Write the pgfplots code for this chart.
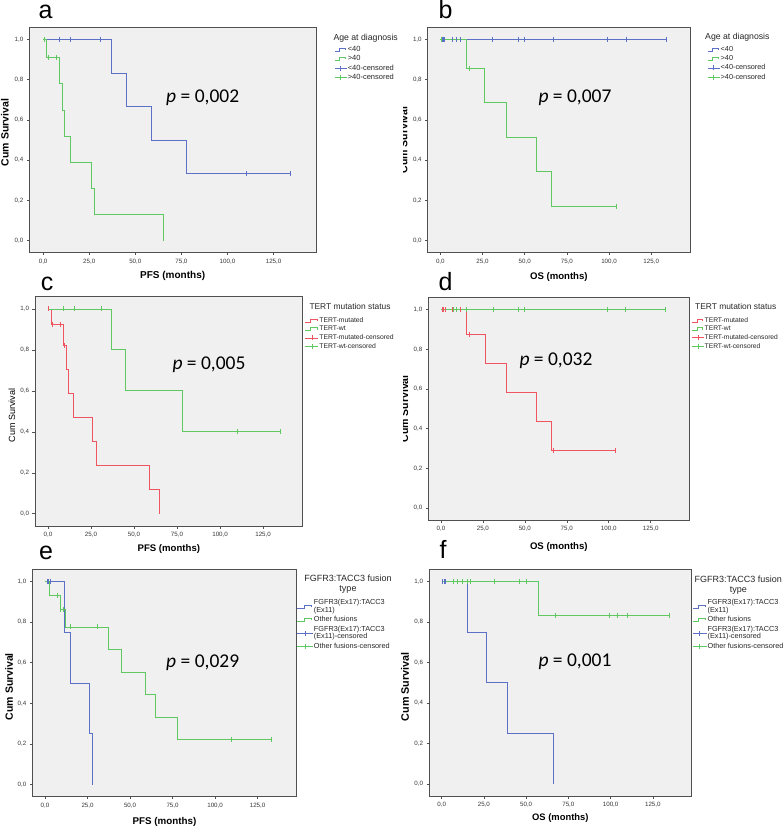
\documentclass[border=0pt]{standalone}
\usepackage{fontspec}
\setmainfont{Liberation Sans}
\newfontfamily\pfont{Carlito}
\usepackage{pgfplots}
\pgfplotsset{compat=1.18}
\definecolor{blueC}{RGB}{92,112,198}
\definecolor{greenC}{RGB}{96,200,96}
\definecolor{redC}{RGB}{240,84,96}
\definecolor{bgc}{RGB}{240,240,240}
\definecolor{axc}{RGB}{80,80,80}
\definecolor{tkc}{RGB}{55,55,55}
\pgfplotsset{
  kmaxis/.style={
    scale only axis, anchor=south west,
    xmin=-7.5, xmax=148, ymin=-0.06, ymax=1.06,
    xtick={0,25,50,75,100,125}, ytick={0,0.2,0.4,0.6,0.8,1},
    xtick pos=bottom, ytick pos=left,
    tick align=outside, major tick length=2.5pt,
    axis line style={draw=axc, line width=0.8pt},
    every tick/.style={draw=axc, line width=0.5pt},
    tick label style={font=\fontsize{6.2}{7}\selectfont, text=tkc},
    axis background/.style={fill=bgc},
    /pgf/number format/fixed, /pgf/number format/fixed zerofill,
    /pgf/number format/precision=1, /pgf/number format/use comma,
    /pgf/number format/1000 sep={}, /pgf/number format/assume math mode=true,
    legend cell align=left,
    legend style={draw=none, fill=none, at={(1,1)}, anchor=north west,
      inner sep=0pt, outer sep=0pt, row sep=1.2pt,
      nodes={inner sep=0.6pt, text=black!85}},
    every axis x label/.style={at={(axis description cs:0.5,0)}, anchor=center},
  },
  kmline/.style={const plot, line width=0.9pt, no markers},
  kmcens/.style={only marks, mark=|, mark size=2.5pt, mark options={line width=0.7pt}},
  stepleg/.style 2 args={legend image code/.code={\draw[#1,line width=0.8pt] (0pt,-1.5pt) -- ({0.42*#2},-1.5pt) -- ({0.42*#2},1.5pt) -- ({0.9*#2},1.5pt) -- ({0.9*#2},-0.5pt);}},
  censleg/.style 2 args={legend image code/.code={\draw[#1,line width=0.8pt] (0pt,0pt) -- (#2,0pt); \draw[#1,line width=0.8pt] ({#2/2},-2.5pt) -- ({#2/2},2.5pt);}},
}
\begin{document}
\begin{tikzpicture}[x=1pt,y=1pt]
\useasboundingbox (0,-828) rectangle (784,0);

% ---------------- panel b
\begin{axis}[kmaxis, at={(427.7pt,-252.7pt)}, width=262.3pt, height=225.4pt,
  xlabel={OS (months)}, ylabel={Cum Survival},
  xlabel style={font=\fontsize{9.6}{10}\selectfont\bfseries, yshift=-24.6pt},
  ylabel style={at={(axis description cs:-0.0915,0.5)}, anchor=center, rotate=0, font=\fontsize{10.5}{11}\selectfont\bfseries},
  legend style={xshift=17.3pt, yshift=-18.7pt, font=\fontsize{7.3}{8}\selectfont}]
\addplot[kmline, blueC, stepleg={blueC}{12pt}] coordinates {(0,1)(134,1)};
\addlegendentry{<40}
\addplot[kmline, greenC, stepleg={greenC}{12pt}] coordinates {(0,1)(15.3,0.857)(26,0.686)(39,0.514)(57,0.343)(66,0.171)(104.4,0.171)};
\addlegendentry{>40}
\addplot[kmcens, blueC, censleg={blueC}{12pt}] coordinates {(0.9,1)(1.7,1)(2.6,1)(7,1)(9.3,1)(12,1)(31,1)(46,1)(50,1)(67,1)(99,1)(110,1)(134,1)};
\addlegendentry{<40-censored}
\addplot[kmcens, greenC, censleg={greenC}{12pt}] coordinates {(0.3,1)(17,0.857)(104.4,0.171)};
\addlegendentry{>40-censored}
\end{axis}
\node[anchor=base west, inner sep=0pt, font=\fontsize{8.7}{9}\selectfont, text=black!85] at (705,-39.5) {Age at diagnosis};

% ---------------- panel d
\begin{axis}[kmaxis, at={(428.3pt,-520pt)}, width=261pt, height=222.3pt,
  xlabel={OS (months)}, ylabel={Cum Survival},
  xlabel style={font=\fontsize{9.6}{10}\selectfont\bfseries, yshift=-27.3pt},
  ylabel style={at={(axis description cs:-0.092,0.5)}, anchor=center, font=\fontsize{10.5}{11}\selectfont\bfseries},
  legend style={xshift=2.4pt, yshift=-19pt, font=\fontsize{6.7}{7.5}\selectfont}]
\addplot[kmline, redC, stepleg={redC}{11.6pt}] coordinates {(0,1)(15,0.875)(26.3,0.729)(38.8,0.583)(57,0.437)(66.1,0.292)(104,0.292)};
\addlegendentry{TERT-mutated}
\addplot[kmline, greenC, stepleg={greenC}{11.6pt}] coordinates {(0,1)(134,1)};
\addlegendentry{TERT-wt}
\addplot[kmcens, redC, censleg={redC}{11.6pt}] coordinates {(0.6,1)(1.4,1)(2.6,1)(7,1)(11.7,1)(17,0.875)(67,0.292)(104,0.292)};
\addlegendentry{TERT-mutated-censored}
\addplot[kmcens, greenC, censleg={greenC}{11.6pt}] coordinates {(7.2,1)(9.2,1)(15.1,1)(31.1,1)(46,1)(50,1)(99,1)(110,1)(134,1)};
\addlegendentry{TERT-wt-censored}
\end{axis}
\node[anchor=base west, inner sep=0pt, font=\fontsize{8.4}{9}\selectfont, text=black!85] at (695,-309.7) {TERT mutation status};

% cover the left part of the right column's y labels (as in the composite)
\fill[white] (386,-1) rectangle (403,-540);

% ---------------- panel a
\begin{axis}[kmaxis, at={(29.3pt,-252.7pt)}, width=286.7pt, height=225.4pt,
  xlabel={PFS (months)}, ylabel={Cum Survival},
  xlabel style={font=\fontsize{10}{11}\selectfont\bfseries, yshift=-23.3pt},
  ylabel style={at={(axis description cs:-0.0848,0.533)}, anchor=center, font=\fontsize{10.5}{11}\selectfont\bfseries},
  legend style={xshift=18.4pt, yshift=-18.4pt, font=\fontsize{7.5}{8}\selectfont}]
\addplot[kmline, blueC, stepleg={blueC}{12pt}] coordinates {(0,1)(37,0.833)(45,0.667)(59,0.5)(78,0.333)(134,0.333)};
\addlegendentry{<40}
\addplot[kmline, greenC, stepleg={greenC}{12pt}] coordinates {(0,1)(1.8,0.909)(9,0.779)(10.6,0.649)(11.6,0.519)(15,0.39)(26,0.26)(28,0.13)(65,0)};
\addlegendentry{>40}
\addplot[kmcens, blueC, censleg={blueC}{12pt}] coordinates {(9,1)(15,1)(31,1)(110,0.333)(134,0.333)};
\addlegendentry{<40-censored}
\addplot[kmcens, greenC, censleg={greenC}{12pt}] coordinates {(0.5,1)(2.6,0.909)(7,0.909)};
\addlegendentry{>40-censored}
\end{axis}
\node[anchor=base west, inner sep=0pt, font=\fontsize{8.7}{9}\selectfont, text=black!85] at (333.3,-40) {Age at diagnosis};

% ---------------- panel c
\begin{axis}[kmaxis, at={(35pt,-526pt)}, width=267.7pt, height=229.3pt,
  xlabel={PFS (months)}, ylabel={Cum Survival},
  xlabel style={font=\fontsize{9.6}{10}\selectfont\bfseries, yshift=-23.5pt},
  ylabel style={at={(axis description cs:-0.0859,0.481)}, anchor=center, font=\fontsize{9}{10}\selectfont},
  legend style={xshift=2.3pt, yshift=-20pt, font=\fontsize{6.8}{7.5}\selectfont}]
\addplot[kmline, redC, stepleg={redC}{13pt}] coordinates {(0,1)(1.8,0.923)(9,0.82)(10.7,0.703)(12,0.586)(15,0.469)(26,0.352)(28,0.234)(59,0.117)(65,0)};
\addlegendentry{TERT-mutated}
\addplot[kmline, greenC, stepleg={greenC}{13pt}] coordinates {(0,1)(37,0.8)(45,0.6)(78,0.4)(135,0.4)};
\addlegendentry{TERT-wt}
\addplot[kmcens, redC, censleg={redC}{13pt}] coordinates {(0.4,1)(2.7,0.923)(7,0.923)(9.5,0.82)};
\addlegendentry{TERT-mutated-censored}
\addplot[kmcens, greenC, censleg={greenC}{13pt}] coordinates {(9.2,1)(15.2,1)(31.2,1)(110,0.4)(135,0.4)};
\addlegendentry{TERT-wt-censored}
\end{axis}
\node[anchor=base west, inner sep=0pt, font=\fontsize{8.4}{9}\selectfont, text=black!85] at (309.3,-309.7) {TERT mutation status};

% ---------------- panel e
\begin{axis}[kmaxis, at={(32.3pt,-796.7pt)}, width=264.4pt, height=227.4pt,
  xlabel={PFS (months)}, ylabel={Cum Survival},
  xlabel style={font=\fontsize{9.8}{10}\selectfont\bfseries, yshift=-25pt},
  ylabel style={at={(axis description cs:-0.088,0.484)}, anchor=center, font=\fontsize{10.5}{11}\selectfont\bfseries},
  legend style={xshift=0.3pt, yshift=-29.7pt, font=\fontsize{7.3}{6.6}\selectfont, cells={align=left}}]
\addplot[kmline, blueC, stepleg={blueC}{15.5pt}] coordinates {(0,1)(11.2,0.75)(15,0.5)(26,0.25)(28,0)};
\addlegendentry{FGFR3(Ex17):TACC3\\(Ex11)}
\addplot[kmline, greenC, stepleg={greenC}{15.5pt}] coordinates {(0,1)(2.5,0.933)(8.8,0.862)(12,0.776)(37,0.665)(45,0.554)(59,0.443)(65,0.332)(78,0.222)(133,0.222)};
\addlegendentry{Other fusions}
\addplot[kmcens, blueC, censleg={blueC}{15.5pt}] coordinates {(1.1,1)(2,1)(3,1)};
\addlegendentry{FGFR3(Ex17):TACC3\\(Ex11)-censored}
\addplot[kmcens, greenC, censleg={greenC}{15.5pt}] coordinates {(7.3,0.933)(8.9,0.862)(10.8,0.862)(15,0.776)(31,0.776)(109.4,0.222)(133,0.222)};
\addlegendentry{Other fusions-censored}
\end{axis}
\node[anchor=north, inner sep=0pt, align=center, font=\fontsize{9}{10}\selectfont, text=black!85] at (348,-574.5) {FGFR3:TACC3 fusion\\type};

% ---------------- panel f
\begin{axis}[kmaxis, at={(429pt,-796pt)}, width=262.7pt, height=226.7pt,
  xlabel={OS (months)}, ylabel={Cum Survival},
  xlabel style={font=\fontsize{9.4}{10}\selectfont\bfseries, yshift=-22pt},
  ylabel style={at={(axis description cs:-0.0914,0.482)}, anchor=center, font=\fontsize{10.8}{11}\selectfont\bfseries},
  legend style={xshift=1pt, yshift=-29.7pt, font=\fontsize{7.3}{6.6}\selectfont, cells={align=left}}]
\addplot[kmline, blueC, stepleg={blueC}{13.5pt}] coordinates {(0,1)(15,0.75)(26.3,0.5)(39,0.25)(66,0)};
\addlegendentry{FGFR3(Ex17):TACC3\\(Ex11)}
\addplot[kmline, greenC, stepleg={greenC}{13.5pt}] coordinates {(0,1)(57,0.833)(135,0.833)};
\addlegendentry{Other fusions}
\addplot[kmcens, blueC, censleg={blueC}{13.5pt}] coordinates {(0.6,1)(1.5,1)(2.4,1)};
\addlegendentry{FGFR3(Ex17):TACC3\\(Ex11)-censored}
\addplot[kmcens, greenC, censleg={greenC}{13.5pt}] coordinates {(7,1)(9.4,1)(12,1)(15,1)(17,1)(31,1)(46,1)(50,1)(67,0.833)(99,0.833)(104,0.833)(110,0.833)(135,0.833)};
\addlegendentry{Other fusions-censored}
\end{axis}
\node[anchor=north, inner sep=0pt, align=center, font=\fontsize{9}{10}\selectfont, text=black!85] at (738.3,-575.5) {FGFR3:TACC3 fusion\\type};

% ---------------- p values
\begin{scope}[every node/.style={anchor=base west, inner sep=0pt, font=\pfont\fontsize{19.5}{20}\selectfont}]
\node at (166,-102.7) {\textit{p} = 0,002};
\node at (538.3,-102.7) {\textit{p} = 0,007};
\node at (172.3,-369) {\textit{p} = 0,005};
\node at (519.3,-365) {\textit{p} = 0,032};
\node at (166,-667.3) {\textit{p} = 0,029};
\node at (538.3,-666) {\textit{p} = 0,001};
\end{scope}

% ---------------- panel letters
\begin{scope}[every node/.style={anchor=base west, inner sep=0pt, font=\fontsize{25}{26}\selectfont}]
\node at (38.3,-18.3) {a};
\node at (438.5,-18.3) {b};
\node at (40.7,-290) {c};
\node at (438.5,-290) {d};
\node at (39,-559.3) {e};
\node at (439.5,-558.3) {f};
\end{scope}
\end{tikzpicture}
\end{document}
